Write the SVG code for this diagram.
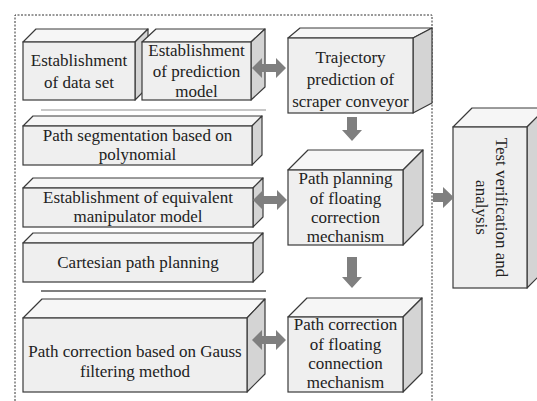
<svg xmlns="http://www.w3.org/2000/svg" width="537" height="401" viewBox="0 0 537 401">
<defs>
<style>
.front{fill:#efefef;stroke:#3a3a3a;stroke-width:1.2}
.top{fill:#f6f6f6;stroke:#3a3a3a;stroke-width:1.2;stroke-linejoin:round}
.side{fill:#d4d4d4;stroke:#3a3a3a;stroke-width:1.2;stroke-linejoin:round}
.t{font-family:"Liberation Serif","Times New Roman",serif;font-size:17px;fill:#222;text-anchor:middle}
.arr{fill:#7f7f7f}
.frame{fill:none;stroke:#333;stroke-width:1;stroke-dasharray:2 1.5}
</style>
</defs>
<rect width="537" height="401" fill="#fff"/>
<path class="frame" d="M15,401 V15 H432 V401"/>
<line x1="41" y1="110" x2="266" y2="110" stroke="#b5b5b5" stroke-width="1.5"/>
<line x1="41" y1="291" x2="266" y2="291" stroke="#555" stroke-width="1.5"/>

<g id="n1">
<path class="top" d="M23,42 L36,29 L148,29 L135,42 Z"/>
<path class="side" d="M135,42 L148,29 L148,87 L135,100 Z"/>
<rect class="front" x="23" y="42" width="112" height="58"/>
<text class="t" x="79" y="66">Establishment</text>
<text class="t" x="79" y="88">of data set</text>
</g>
<g id="n2">
<path class="top" d="M142,42 L156,29 L265,29 L251,42 Z"/>
<path class="side" d="M251,42 L265,29 L265,87 L251,100 Z"/>
<rect class="front" x="142" y="42" width="109" height="58"/>
<text class="t" x="196.5" y="56">Establishment</text>
<text class="t" x="196.5" y="77">of prediction</text>
<text class="t" x="196.5" y="97">model</text>
</g>
<g id="n3">
<path class="top" d="M288,38 L300,28 L432,28 L413,38 Z"/>
<path class="side" d="M413,38 L432,28 L432,103 L413,113 Z"/>
<rect class="front" x="288" y="38" width="125" height="75"/>
<text class="t" x="350.5" y="63">Trajectory</text>
<text class="t" x="350.5" y="85">prediction of</text>
<text class="t" x="350.5" y="107">scraper conveyor</text>
</g>
<g id="n4">
<path class="top" d="M23,126 L33,116 L262,116 L252,126 Z"/>
<path class="side" d="M252,126 L262,116 L262,155 L252,165 Z"/>
<rect class="front" x="23" y="126" width="229" height="39"/>
<text class="t" x="137.5" y="141">Path segmentation based on</text>
<text class="t" x="137.5" y="160">polynomial</text>
</g>
<g id="n5">
<path class="top" d="M23,188 L33,178 L263,178 L253,188 Z"/>
<path class="side" d="M253,188 L263,178 L263,217 L253,227 Z"/>
<rect class="front" x="23" y="188" width="230" height="39"/>
<text class="t" x="138" y="203">Establishment of equivalent</text>
<text class="t" x="138" y="222">manipulator model</text>
</g>
<g id="n6">
<path class="top" d="M23,243 L33,233 L263,233 L253,243 Z"/>
<path class="side" d="M253,243 L263,233 L263,272 L253,282 Z"/>
<rect class="front" x="23" y="243" width="230" height="39"/>
<text class="t" x="138" y="268">Cartesian path planning</text>
</g>
<g id="n7">
<path class="top" d="M23,318 L42,299 L265,299 L247,318 Z"/>
<path class="side" d="M247,318 L265,299 L265,374 L247,392 Z"/>
<rect class="front" x="23" y="318" width="224" height="74"/>
<text class="t" x="135" y="357">Path correction based on Gauss</text>
<text class="t" x="135" y="377">filtering method</text>
</g>
<g id="n8">
<path class="top" d="M288,170 L308,150 L423,150 L403,170 Z"/>
<path class="side" d="M403,170 L423,150 L423,225 L403,245 Z"/>
<rect class="front" x="288" y="170" width="115" height="75"/>
<text class="t" x="345.5" y="184">Path planning</text>
<text class="t" x="345.5" y="204">of floating</text>
<text class="t" x="345.5" y="223">correction</text>
<text class="t" x="345.5" y="242">mechanism</text>
</g>
<g id="n9">
<path class="top" d="M288,317 L307,298 L422,298 L403,317 Z"/>
<path class="side" d="M403,317 L422,298 L422,373 L403,392 Z"/>
<rect class="front" x="288" y="317" width="115" height="75"/>
<text class="t" x="345.5" y="330">Path correction</text>
<text class="t" x="345.5" y="350">of floating</text>
<text class="t" x="345.5" y="369">connection</text>
<text class="t" x="345.5" y="388">mechanism</text>
</g>
<g id="n10">
<path class="top" d="M453,127 L472,108 L546,108 L527,127 Z"/>
<path class="side" d="M527,127 L546,108 L546,269 L527,288 Z"/>
<rect class="front" x="453" y="127" width="74" height="161"/>
<g transform="translate(490,207.5) rotate(90)">
<text class="t" x="0" y="-6">Test verification and</text>
<text class="t" x="0" y="14">analysis</text>
</g>
</g>

<g id="connectors">
<path class="arr" d="M252,68 L262,58 L262,64 L276,64 L276,58 L286,68 L276,78 L276,72 L262,72 L262,78 Z"/>
<path class="arr" d="M253,200 L263,190 L263,196 L277,196 L277,190 L287,200 L277,210 L277,204 L263,204 L263,210 Z"/>
<path class="arr" d="M252,340 L262,330 L262,336 L276,336 L276,330 L286,340 L276,350 L276,344 L262,344 L262,350 Z"/>
<path class="arr" d="M347,117 L357,117 L357,130 L362,130 L352,141 L342,130 L347,130 Z"/>
<path class="arr" d="M347,257 L357,257 L357,277 L362,277 L352,288 L342,277 L347,277 Z"/>
<path class="arr" d="M433,193 L443,193 L443,187 L454,197.5 L443,208 L443,202 L433,202 Z"/>
</g>
</svg>
